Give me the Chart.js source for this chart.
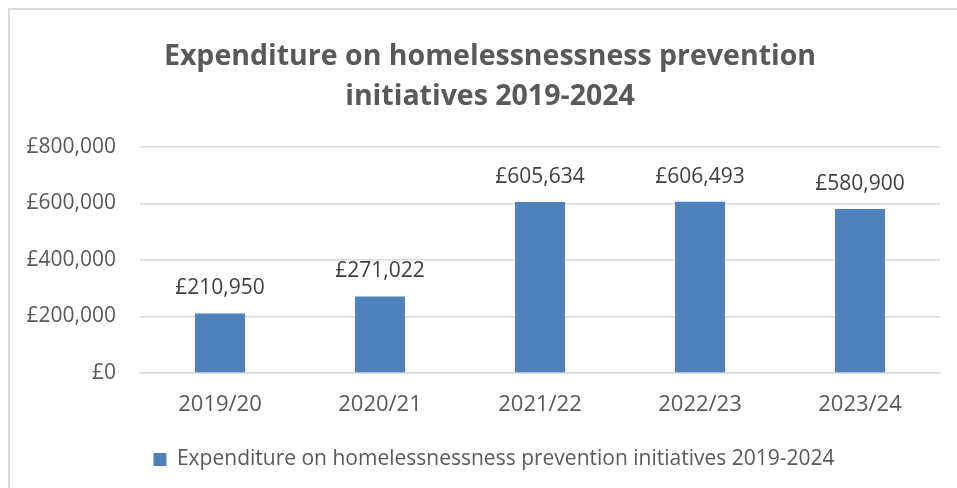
<!DOCTYPE html>
<html>
<head>
<meta charset="utf-8">
<script src="https://cdn.jsdelivr.net/npm/chart.js@4.4.1/dist/chart.umd.min.js"></script>
<style>
  html, body { margin: 0; padding: 0; background: #fff; }
  body { width: 957px; height: 488px; position: relative; overflow: hidden; }
  /* chart frame: only the left and top edges fall inside the window */
  #frame {
    position: absolute; left: 8px; top: 8px; width: 980px; height: 500px;
    border-left: 2px solid #d9d9d9; border-top: 2px solid #d9d9d9;
    box-sizing: border-box;
  }
  #chart { position: absolute; left: 0; top: 0; }
</style>
</head>
<body>
<div id="frame"></div>
<canvas id="chart" width="957" height="488"></canvas>
<script>
// values
var categories = ['2019/20', '2020/21', '2021/22', '2022/23', '2023/24'];
var expenditure = [210950, 271022, 605634, 606493, 580900];
var yTicks = [0, 200000, 400000, 600000, 800000];
var seriesLabel = 'Expenditure on homelessnessness prevention initiatives 2019-2024';
var titleLines = ['Expenditure on homelessnessness prevention', 'initiatives 2019-2024'];

var FONT = "'Open Sans', 'Noto Sans', sans-serif";

function pounds(v) {
  return '£' + Number(v).toLocaleString('en-GB');
}

// draws the value above each bar, the way the spreadsheet does
var barValueLabels = {
  id: 'barValueLabels',
  afterDatasetsDraw: function (chart) {
    var ctx = chart.ctx;
    ctx.save();
    ctx.font = '21px ' + FONT;
    ctx.fillStyle = '#404040';
    ctx.textAlign = 'center';
    ctx.textBaseline = 'middle';
    chart.getDatasetMeta(0).data.forEach(function (bar, i) {
      ctx.fillText(pounds(chart.data.datasets[0].data[i]), bar.x, bar.y - 25);
    });
    ctx.restore();
  }
};

// the original's title and legend sit a little right of the canvas centre
var nudgeBlocks = {
  id: 'nudgeBlocks',
  afterLayout: function (chart) {
    if (chart.titleBlock) chart.titleBlock.left += 20;
    if (chart.legend) { chart.legend.left += 14; chart.legend.right += 14; }
  }
};

new Chart(document.getElementById('chart'), {
  type: 'bar',
  data: {
    labels: categories,
    datasets: [{
      label: seriesLabel,
      data: expenditure,
      backgroundColor: '#4f81bd',
      borderWidth: 0,
      categoryPercentage: 0.3125,
      barPercentage: 1
    }]
  },
  options: {
    responsive: false,
    animation: false,
    devicePixelRatio: 1,
    layout: { padding: { left: 20, right: 17, top: 17, bottom: 8 } },
    plugins: {
      title: {
        display: true,
        text: titleLines,
        color: '#595959',
        font: { family: FONT, size: 28.5, weight: 'bold', lineHeight: 40 / 28.5 },
        padding: { top: 20, bottom: 30 }
      },
      legend: {
        position: 'bottom',
        labels: {
          color: '#595959',
          font: { family: FONT, size: 21 },
          boxWidth: 13,
          boxHeight: 13,
          padding: 12
        }
      },
      tooltip: { enabled: false }
    },
    scales: {
      x: {
        afterFit: function (scale) { scale.height = 64; },
        grid: { display: false },
        border: { display: true, color: '#d9d9d9', width: 1.5 },
        ticks: { color: '#595959', font: { family: FONT, size: 22 }, padding: 11 }
      },
      y: {
        min: 0,
        max: 800000,
        afterFit: function (scale) { scale.width = 120; },
        afterBuildTicks: function (scale) {
          scale.ticks = yTicks.map(function (v) { return { value: v }; });
        },
        grid: { color: '#d9d9d9', lineWidth: 1.5, drawTicks: false },
        border: { display: false },
        ticks: {
          color: '#595959',
          font: { family: FONT, size: 21 },
          padding: 24,
          callback: function (v) { return pounds(v); }
        }
      }
    }
  },
  plugins: [barValueLabels, nudgeBlocks]
});
</script>
</body>
</html>
